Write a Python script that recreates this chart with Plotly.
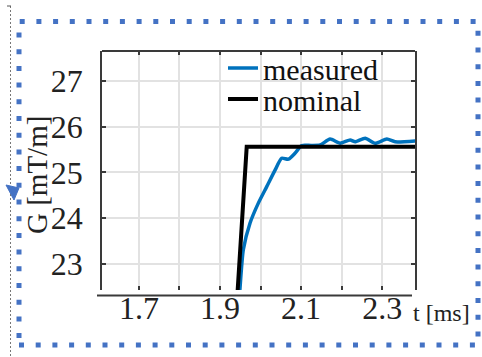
import plotly.graph_objects as go

# ---- data ----
t_measured = [1.946, 1.949, 1.9575, 1.974, 1.9946, 2.0153, 2.0358, 2.052, 2.0687, 2.085,
              2.1017, 2.125, 2.1469, 2.1716, 2.1963, 2.221, 2.2333, 2.258, 2.2827,
              2.3116, 2.332, 2.3815]
g_measured = [22.1, 22.43, 23.31, 23.89, 24.33, 24.69, 25.05, 25.31, 25.29, 25.42,
              25.59, 25.59, 25.60, 25.73, 25.64, 25.71, 25.67, 25.75, 25.64,
              25.73, 25.67, 25.69]
t_nominal = [1.9406, 1.9659, 2.40]
g_nominal = [22.0, 25.56, 25.56]

x_tickvals = [1.7, 1.8, 1.9, 2.0, 2.1, 2.2, 2.3]
x_ticktext = ["1.7", "", "1.9", "", "2.1", "", "2.3"]
y_tickvals = [23, 24, 25, 26, 27]
x_range = [1.609, 2.381]
y_range = [22.43, 27.656]

# ---- layout helpers (pixel -> paper) ----
W, H = 482, 357
L, R, T, B = 102, 415, 51, 290
def px(x): return (x - L) / (R - L)
def py(y): return (B - y) / (B - T)

FONT = "Liberation Serif, Times New Roman, serif"
AX = "#3a3a3a"

fig = go.Figure()
fig.add_trace(go.Scatter(x=t_measured, y=g_measured, mode="lines", name="measured",
                         line=dict(color="#0072BD", width=3.5, shape="spline", smoothing=0.6),
                         legend="legend", showlegend=True))
fig.add_trace(go.Scatter(x=t_nominal, y=g_nominal, mode="lines", name="nominal",
                         line=dict(color="black", width=4), legend="legend2", showlegend=True))

legend_common = dict(font=dict(family=FONT, size=30, color="#111"), bgcolor="rgba(0,0,0,0)",
                     borderwidth=0, xanchor="left", yanchor="middle", itemwidth=30,
                     visible=True)
fig.update_layout(
    width=W, height=H, margin=dict(l=L, r=W - R, t=T, b=H - B),
    paper_bgcolor="white", plot_bgcolor="white", showlegend=True,
    legend=dict(x=px(223), y=py(68), **legend_common),
    legend2=dict(x=px(223), y=py(99), **legend_common),
    xaxis=dict(range=x_range, tickvals=x_tickvals, ticktext=x_ticktext,
               showgrid=True, gridcolor="#e2e2e2", gridwidth=1.5, zeroline=False,
               showline=False, mirror="ticks", ticks="inside", ticklen=4, tickwidth=1.5,
               tickcolor=AX, ticklabelstandoff=-4,
               tickfont=dict(family=FONT, size=32, color="#222")),
    yaxis=dict(range=y_range, tickvals=y_tickvals, showgrid=True, gridcolor="#e2e2e2",
               gridwidth=1.5, zeroline=False, showline=True, linecolor=AX, linewidth=1.8,
               mirror="ticks", ticks="inside", ticklen=4, tickwidth=1.5, tickcolor=AX,
               ticklabelstandoff=11, tickfont=dict(family=FONT, size=32, color="#222")),
)

shapes = [
    # top box line
    dict(type="line", xref="paper", yref="paper", x0=0, x1=1, y0=1, y1=1,
         line=dict(color=AX, width=1.8)),
    # offset bottom axis line
    dict(type="line", xref="paper", yref="paper", x0=px(97), x1=px(412), y0=py(295.5), y1=py(295.5),
         line=dict(color=AX, width=2)),
    # dotted selection frame
    dict(type="rect", xref="paper", yref="paper", x0=px(19), x1=px(478), y0=py(345), y1=py(21.5),
         line=dict(color="#4472C4", width=5, dash="5px,11.7px"), layer="above"),
    # thin dashed guide at left
    dict(type="line", xref="paper", yref="paper", x0=px(10.5), x1=px(10.5), y0=py(6), y1=py(357),
         line=dict(color="#777", width=1, dash="2px,2px")),
    dict(type="line", xref="paper", yref="paper", x0=px(7), x1=px(11), y0=py(6), y1=py(6),
         line=dict(color="#555", width=1)),
    # small blue marker
    dict(type="path", xref="paper", yref="paper",
         path=f"M{px(6)},{py(185)} L{px(19)},{py(188)} L{px(14)},{py(200)} Z",
         fillcolor="#4472C4", line=dict(color="#4472C4", width=1)),
]
fig.update_layout(shapes=shapes)

fig.add_annotation(text="t [ms]", xref="paper", yref="paper", x=px(411), y=py(313),
                   xanchor="left", yanchor="middle", showarrow=False,
                   font=dict(family=FONT, size=24, color="#222"))
fig.add_annotation(text="G [mT/m]", xref="paper", yref="paper", x=px(37), y=py(175),
                   xanchor="center", yanchor="middle", textangle=-90, showarrow=False,
                   font=dict(family=FONT, size=29, color="#222"))

fig.write_html("out.html")
